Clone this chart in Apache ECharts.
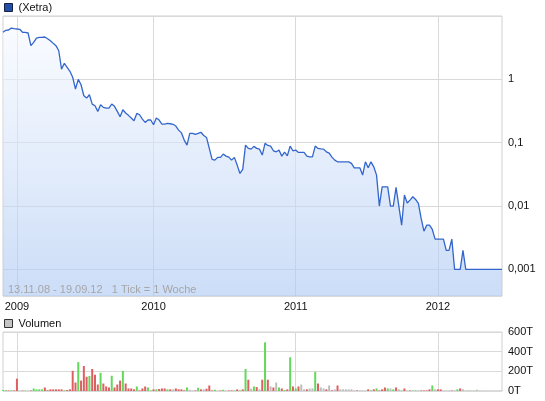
<!DOCTYPE html>
<html><head><meta charset="utf-8">
<script src="https://cdn.jsdelivr.net/npm/echarts@6/dist/echarts.min.js"></script>
<style>html,body{margin:0;padding:0;background:#fff}#c{width:545px;height:401px}</style>
</head><body><div id="c"></div>
<script>
// weekly closing prices (Xetra), 13.11.08 - 19.09.12
const prices = [
5.53, 5.94, 6.01, 6.46, 6.30, 6.23, 6.17, 5.53, 5.53, 5.39,
3.40, 3.84, 4.49, 4.61, 4.61, 4.66, 4.38, 4.07, 3.70, 3.40,
2.83, 1.45, 1.79, 1.55, 1.34, 1.08, 0.703, 1.00, 0.822, 0.551,
0.506, 0.571, 0.407, 0.383, 0.312, 0.397, 0.361, 0.352, 0.352, 0.407,
0.375, 0.312, 0.257, 0.331, 0.294, 0.270, 0.245, 0.222, 0.290, 0.276,
0.236, 0.209, 0.228, 0.228, 0.192, 0.245, 0.228, 0.197, 0.197, 0.202,
0.199, 0.195, 0.183, 0.158, 0.143, 0.110, 0.0917, 0.140, 0.140, 0.135,
0.140, 0.146, 0.130, 0.121, 0.0813, 0.0545, 0.0531, 0.0586, 0.0586, 0.0661,
0.0614, 0.0592, 0.0531, 0.0586, 0.0443, 0.0327, 0.0379, 0.0917, 0.0813, 0.0792,
0.0874, 0.0813, 0.0792, 0.0637, 0.0975, 0.0906, 0.0884, 0.0745, 0.0718, 0.0764,
0.0614, 0.0710, 0.0621, 0.0884, 0.0745, 0.0764, 0.0703, 0.0703, 0.0703, 0.0614,
0.0598, 0.0598, 0.0884, 0.0813, 0.0801, 0.0792, 0.0718, 0.0685, 0.0592, 0.0531,
0.0499, 0.0499, 0.0499, 0.0499, 0.0499, 0.0471, 0.0401, 0.0401, 0.0401, 0.0308,
0.0499, 0.0401, 0.0499, 0.0416, 0.0308, 0.0100, 0.0201, 0.0201, 0.0201, 0.0100,
0.0100, 0.0197, 0.0100, 0.0050, 0.0149, 0.0112, 0.0124, 0.0140, 0.0127, 0.0110,
0.00637, 0.00401, 0.0050, 0.0050, 0.00427, 0.0030, 0.0030, 0.0030, 0.0030, 0.0020,
0.0020, 0.0030, 0.0010, 0.0010, 0.0010, 0.0020, 0.0010, 0.0010, 0.0010, 0.0010,
0.0010, 0.0010, 0.0010, 0.0010, 0.0010, 0.0010, 0.0010, 0.0010, 0.0010, 0.0010
];
// weekly volume in thousands (T)
const volumes = [
10, 8, 6, 6, 6, 125, 4, 5, 5, 5,
6, 26, 17, 17, 17, 36, 8, 17, 17, 17,
17, 17, 7, 10, 17, 205, 86, 294, 106, 254,
145, 152, 224, 165, 66, 185, 76, 46, 36, 155,
36, 66, 106, 205, 76, 26, 26, 17, 46, 7,
26, 46, 36, 6, 17, 17, 20, 26, 26, 17,
17, 17, 26, 17, 17, 7, 36, 13, 6, 6,
33, 17, 17, 23, 56, 6, 13, 5, 6, 13,
5, 6, 6, 6, 17, 7, 17, 224, 115, 23,
46, 40, 17, 115, 495, 115, 46, 36, 86, 36,
26, 10, 17, 343, 46, 26, 46, 66, 17, 17,
26, 26, 195, 76, 36, 26, 17, 56, 7, 17,
56, 17, 17, 17, 17, 17, 6, 6, 6, 6,
6, 17, 7, 17, 26, 6, 17, 36, 26, 26,
17, 36, 17, 6, 26, 6, 6, 6, 6, 6,
6, 6, 6, 17, 56, 17, 17, 17, 5, 5,
5, 5, 5, 17, 26, 17, 5, 5, 5, 5,
13, 5, 4, 4, 4, 4, 4, 4, 4, 4
];
// g = up week, r = down week, n = unchanged
const directions = (
'g g r g r r n r g n ' +
'r g g g g r r r r r ' +
'r r g r r r r g r r ' +
'r g r r r g r r r g ' +
'r r r g r r r r g r ' +
'r r g g r g r r r g ' +
'r n r r r r g n n r ' +
'g r n r r r g n r g ' +
'n r r g r g r g r n ' +
'g r n r g r n r n g ' +
'r g r g r g r n n r ' +
'n n g r n n r n r n ' +
'r n n n n n n r n n ' +
'n r g r g r r r g n ' +
'g r n g r n r g g n ' +
'r r r r g n r r n n ' +
'n r n g r n n g n n ' +
'n n n n n n n n n n').trim().split(' ');
const yearTicks = ['2009', '2010', '2011', '2012'];
const yearTickIndex = [5, 54, 105, 156];
const volumeTicks = [0, 200, 400, 600];
const rangeText = '13.11.08 - 19.09.12   1 Tick = 1 Woche';

const FONT = '"Liberation Sans", Arial, sans-serif';
const categories = prices.map((_, i) => {
  const k = yearTickIndex.indexOf(i);
  return k >= 0 ? yearTicks[k] : '';
});
const isYear = (i, v) => v !== '';
const dirColor = { g: '#62d95a', r: '#de5f5f', n: '#bdbdbd' };
const gridColor = '#d9d9d9';

const chart = echarts.init(document.getElementById('c'), null, { renderer: 'canvas' });
chart.setOption({
  animation: false,
  backgroundColor: '#fff',
  textStyle: { fontFamily: FONT },
  legend: [
    { data: ['(Xetra)'], left: 4, top: 2, padding: 0, icon: 'rect', itemWidth: 8, itemHeight: 8,
      selectedMode: false,
      itemStyle: { color: '#1f4fa8', borderColor: '#1a2040', borderWidth: 1 },
      textStyle: { fontSize: 11, color: '#111', fontFamily: FONT, padding: [0, 0, 0, 1] } },
    { data: ['Volumen'], left: 4, top: 318, padding: 0, icon: 'rect', itemWidth: 8, itemHeight: 8,
      selectedMode: false,
      itemStyle: { color: '#c4c4c4', borderColor: '#333', borderWidth: 1 },
      textStyle: { fontSize: 11, color: '#111', fontFamily: FONT, padding: [0, 0, 0, 1] } }
  ],
  grid: [
    { left: 3, right: 43, top: 16, height: 280, show: true, borderColor: '#d0d0d0', borderWidth: 1 },
    { left: 3, right: 43, top: 332, height: 59, show: true, borderColor: '#d0d0d0', borderWidth: 1 }
  ],
  xAxis: [
    { type: 'category', gridIndex: 0, data: categories, boundaryGap: false,
      axisLine: { show: false }, axisTick: { show: false },
      axisLabel: { interval: isYear, color: '#111', fontSize: 11, margin: 5, fontFamily: FONT },
      splitLine: { show: true, interval: isYear, lineStyle: { color: gridColor, width: 1 } } },
    { type: 'category', gridIndex: 1, data: categories, boundaryGap: false,
      axisLine: { show: false }, axisTick: { show: false }, axisLabel: { show: false },
      splitLine: { show: true, interval: isYear, lineStyle: { color: gridColor, width: 1 } } }
  ],
  yAxis: [
    { type: 'log', logBase: 10, gridIndex: 0, position: 'right', min: 0.00038, max: 10,
      axisLine: { show: false }, axisTick: { show: false },
      axisLabel: { color: '#111', fontSize: 11, margin: 6, fontFamily: FONT,
        showMinLabel: false, showMaxLabel: false,
        formatter: v => String(Number(v.toPrecision(6))).replace('.', ',') },
      splitLine: { show: true, lineStyle: { color: gridColor, width: 1 } } },
    { type: 'value', gridIndex: 1, position: 'right', min: volumeTicks[0],
      max: volumeTicks[volumeTicks.length - 1], interval: volumeTicks[1] - volumeTicks[0],
      axisLine: { show: false }, axisTick: { show: false },
      axisLabel: { color: '#111', fontSize: 11, margin: 6, fontFamily: FONT, formatter: v => v + 'T' },
      splitLine: { show: true, lineStyle: { color: gridColor, width: 1 } } }
  ],
  graphic: [
    { type: 'text', left: 8, top: 284, z: 100,
      style: { text: rangeText, fill: '#a6a6a6', font: '11px ' + FONT } }
  ],
  series: [
    { name: '(Xetra)', type: 'line', xAxisIndex: 0, yAxisIndex: 0, data: prices,
      showSymbol: false, symbol: 'none',
      lineStyle: { color: '#3366cc', width: 1.3 },
      itemStyle: { color: '#3366cc' },
      areaStyle: { origin: 'start',
        color: new echarts.graphic.LinearGradient(0, 0, 0, 1, [
          { offset: 0, color: 'rgba(246,249,255,0.88)' },
          { offset: 0.5, color: 'rgba(210,225,249,0.88)' },
          { offset: 1, color: 'rgba(172,200,243,0.88)' }
        ]) } },
    { name: 'Volumen', type: 'bar', xAxisIndex: 1, yAxisIndex: 1, barWidth: 2,
      itemStyle: { color: '#c0c0c0' },
      data: volumes.map((v, i) => ({ value: v, itemStyle: { color: dirColor[directions[i]] } })) }
  ]
});
</script>
</body></html>
